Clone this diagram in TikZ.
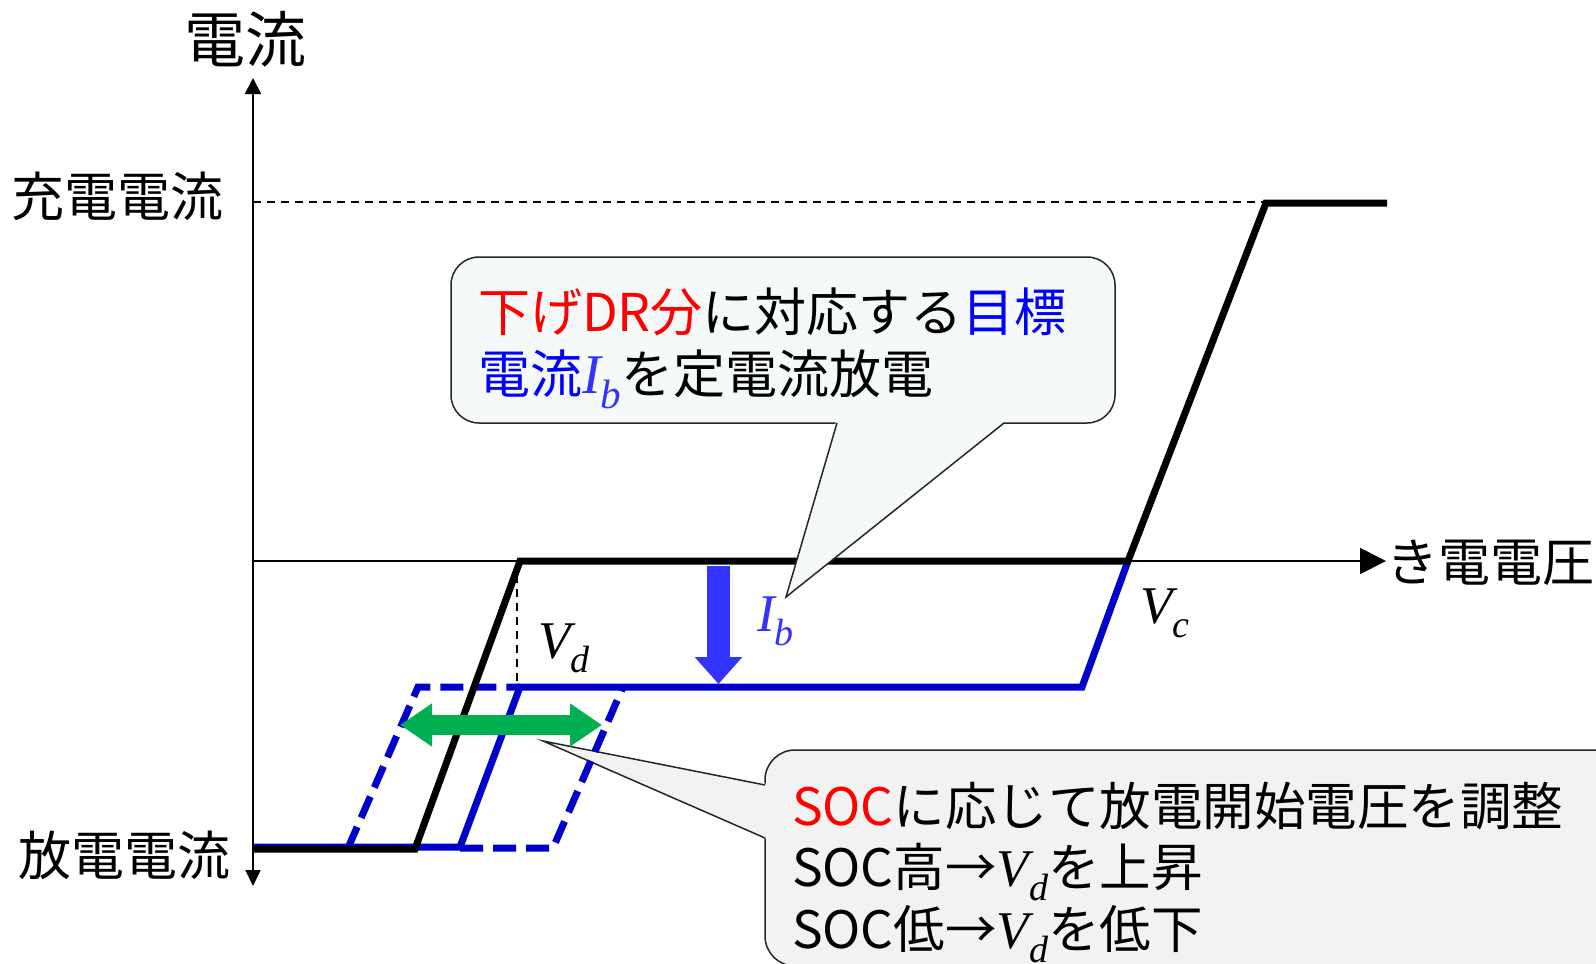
\documentclass[tikz,border=0pt]{standalone}
\usepackage{fontspec}
\setmainfont{Noto Sans CJK JP}
\newfontfamily\tmsfont{Liberation Serif}
\usetikzlibrary{arrows.meta}
\definecolor{curveblue}{HTML}{0000CC}
\definecolor{arrowblue}{HTML}{3333FF}
\definecolor{textblue}{HTML}{0000FF}
\definecolor{textred}{HTML}{FF0000}
\definecolor{arrowgreen}{HTML}{00B050}
\definecolor{calloutA}{HTML}{F5F9FA}
\definecolor{calloutB}{HTML}{F2F2F2}
\newcommand\fs[1]{\fontsize{#1pt}{#1pt}\selectfont}
\newcommand\mv[4]{{\tmsfont\itshape\fs{#3}#1\raisebox{-0.27em}{\fs{#4}#2}}}
\begin{document}
\begin{tikzpicture}[x=1pt,y=-1pt,
  axisline/.style={line width=1.8pt},
  guide/.style={line width=1.5pt, dash pattern=on 8pt off 6pt},
  blackcurve/.style={line width=7pt, black},
  bluecurve/.style={line width=7pt, curveblue},
  bluedash/.style={line width=7pt, curveblue, dash pattern=on 23pt off 10pt},
  lbl/.style={inner sep=0pt, outer sep=0pt},
  calloutbox/.style={line width=1.5pt, draw=black!85},
]
\useasboundingbox (0,0) rectangle (1596,964);
\clip (0,0) rectangle (1596,964);

% axes
\coordinate (O) at (253,561);
\coordinate (ytop) at (253,78);
\coordinate (ybot) at (253,886);
\coordinate (xend) at (1386,561);
\draw[axisline, {Triangle[length=16pt,width=15pt]}-{Triangle[length=16pt,width=16pt]}] (ybot) -- (ytop);
\draw[axisline, -{Triangle[length=26pt,width=26pt]}] (O) -- (xend);

% guides
\coordinate (g1) at (253,202);
\coordinate (g2) at (1266,202);
\draw[guide] (g1) -- (g2);
\coordinate (v1) at (517,561);
\coordinate (v2) at (517,686);
\draw[guide] (v1) -- (v2);

% callout 2 (behind curves)
\coordinate (c2tip) at (543,741);
\coordinate (c2a) at (765,785);
\coordinate (c2b) at (765,838);
\filldraw[calloutbox, fill=calloutB, rounded corners=30pt] (765,750) rectangle (1660,966);
\fill[calloutB] (767,784) -- (c2tip) -- (767,839) -- cycle;
\draw[calloutbox] (c2a) -- (c2tip) -- (c2b);

% blue curves
\draw[bluedash] (348,848) -- (418,687) -- (520,687);
\draw[bluedash] (460,848) -- (553,848) -- (623,687);
\draw[bluecurve] (253,847) -- (460,847) -- (520,687) -- (1082,687) -- (1128,561);

% I_b arrow
\coordinate (ib1) at (718.5,566);
\coordinate (ib2) at (718.5,684);
\draw[line width=23pt, arrowblue, -{Triangle[length=27pt,width=46pt]}] (ib1) -- (ib2);

% black curve
\draw[blackcurve] (253,849) -- (415,849) -- (520,561) -- (1128,561) -- (1266,203) -- (1387,203);

% green arrow
\coordinate (gA) at (400,725);
\coordinate (gB) at (602,725);
\draw[line width=20pt, arrowgreen, {Triangle[length=32pt,width=41pt]}-{Triangle[length=32pt,width=41pt]}] (gA) -- (gB);

% callout 1
\coordinate (c1tip) at (786,597);
\coordinate (c1a) at (837,423);
\coordinate (c1b) at (1004,423);
\filldraw[calloutbox, fill=calloutA, rounded corners=28pt] (451,257) rectangle (1115,423);
\fill[calloutA] (836,421.5) -- (c1tip) -- (1005,421.5) -- cycle;
\draw[calloutbox] (c1a) -- (c1tip) -- (c1b);

% axis labels
\node[lbl, anchor=base, font=\fs{61}] (ttl) at (245,62) {電流};
\node[lbl, anchor=base, font=\fs{53}] (chg) at (118,216) {充電電流};
\node[lbl, anchor=base, font=\fs{53}] (dis) at (125,875) {放電電流};
\node[lbl, anchor=base west, font=\fs{52}] (volt) at (1386,581) {き電電圧};

% chart math labels
\node[lbl, anchor=base west] (vd) at (538,658) {\mv{V}{d}{53}{38}};
\node[lbl, anchor=base west] (vc) at (1140,623) {\mv{V}{c}{53}{38}};
\node[lbl, anchor=base west, text=arrowblue] (ib) at (757,631) {\mv{I}{b}{53}{38}};

% callout 1 text
\node[lbl, anchor=base west, font=\fs{52}] (t1a) at (478,331) {{\color{textred}下げDR分}に対応する{\color{textblue}目標}};
\node[lbl, anchor=base west, font=\fs{52}] (t1b) at (478,393) {{\color{textblue}電流}{\color{arrowblue}\mv{I}{b}{56}{41}}を定電流放電};

% callout 2 text
\node[lbl, anchor=base west, font=\fs{51.5}] (t2a) at (792,825) {{\color{textred}SOC}に応じて放電開始電圧を調整};
\node[lbl, anchor=base west, font=\fs{51.5}] (t2b) at (792,886) {SOC高→\mv{V}{d}{53}{38}を上昇};
\node[lbl, anchor=base west, font=\fs{51.5}] (t2c) at (792,948) {SOC低→\mv{V}{d}{53}{38}を低下};
\end{tikzpicture}
\end{document}
